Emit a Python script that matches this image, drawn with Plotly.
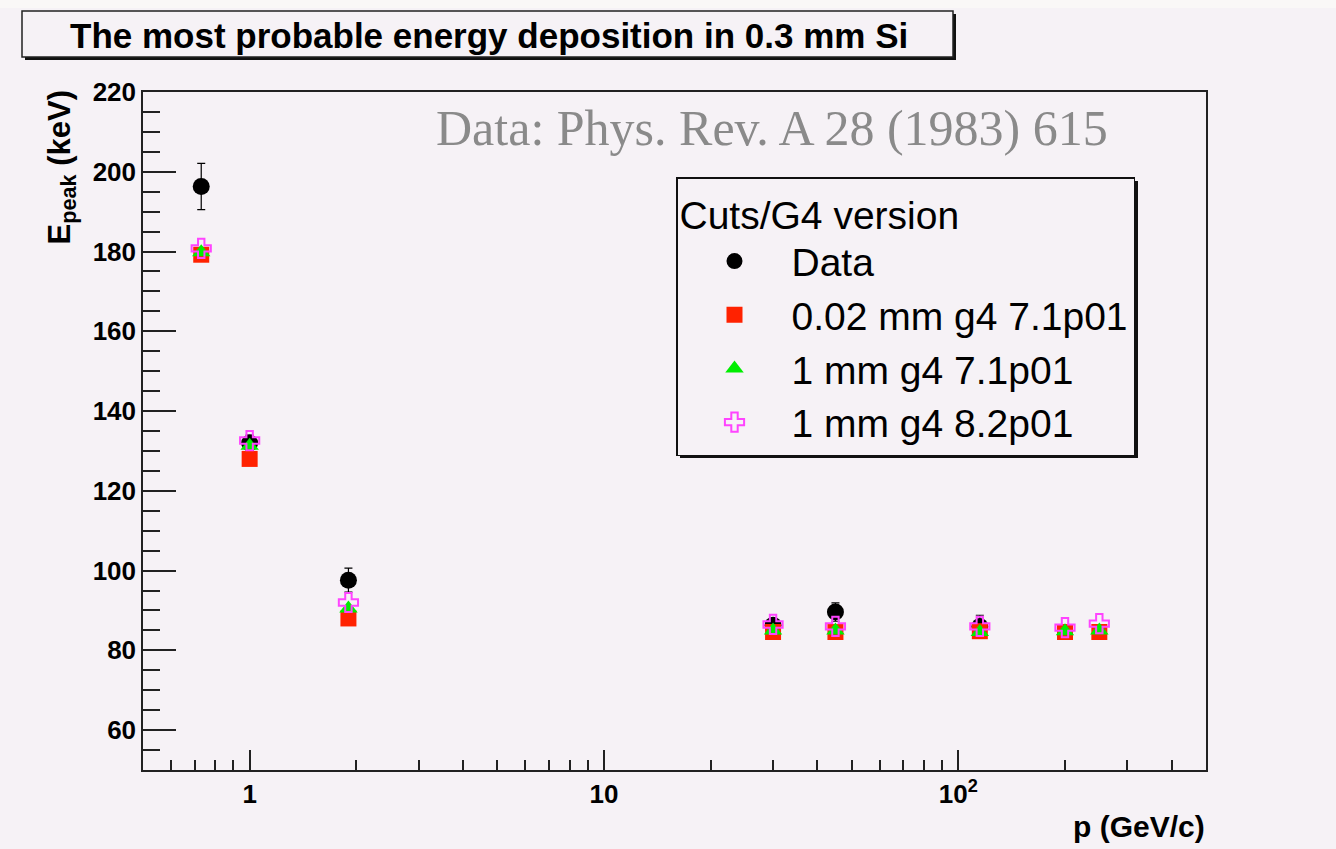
import plotly.graph_objects as go

# ---------------- data ----------------
p_data = [0.73, 1.0, 1.9, 30, 45, 115]
e_data = [196.3, 132.0, 97.6, 86.3, 89.6, 86.0]
e_data_err = [5.8, 2.0, 3.0, 1.5, 2.3, 2.8]

p_sim = [0.73, 1.0, 1.9, 30, 45, 115, 200, 250]
e_002_71 = [179.2, 128.0, 88.0, 84.6, 84.6, 84.8, 84.6, 84.6]
e_1_71 = [179.8, 131.3, 90.5, 85.0, 85.0, 84.6, 84.8, 85.0]
e_1_82 = [180.8, 132.6, 92.0, 86.5, 86.0, 86.0, 85.7, 86.7]

x_major = [1, 10, 100]
x_major_text = ["1", "10", "10<sup>2</sup>"]
x_minor = [0.6, 0.7, 0.8, 0.9, 2, 3, 4, 5, 6, 7, 8, 9,
           20, 30, 40, 50, 60, 70, 80, 90, 200, 300, 400]
y_major = [60, 80, 100, 120, 140, 160, 180, 200, 220]

# ---------------- layout geometry (pixels) ----------------
W, H = 1336, 849
L, R, T, B = 143, 1206, 92, 770
BG = "#f6f2f6"
SANS = "Liberation Sans, Arial, sans-serif"


def px(xp):
    return (xp - L) / (R - L)


def py(yp):
    return (B - yp) / (B - T)


fig = go.Figure()

fig.add_trace(go.Scatter(
    x=p_data, y=e_data, mode="markers", name="Data",
    legendgroup="a",
    marker=dict(symbol="circle", size=17, color="black"),
    error_y=dict(type="data", array=e_data_err, visible=True,
                 color="black", thickness=1.2, width=4),
))
fig.add_trace(go.Scatter(
    x=p_sim, y=e_002_71, mode="markers", name="0.02 mm g4 7.1p01",
    legendgroup="b",
    marker=dict(symbol="square", size=16, color="#ff2200"),
))
fig.add_trace(go.Scatter(
    x=p_sim, y=e_1_71, mode="markers", name="1 mm g4 7.1p01",
    legendgroup="c",
    marker=dict(symbol="triangle-up", size=16, color="#00ee00"),
))
fig.add_trace(go.Scatter(
    x=p_sim, y=e_1_82, mode="markers", name="1 mm g4 8.2p01",
    legendgroup="d",
    marker=dict(symbol="cross-open", size=16, color="#ff44ff",
                line=dict(color="#ff44ff", width=2)),
))

shapes = []
# top strip of the slide
shapes.append(dict(type="rect", xref="paper", yref="paper",
                   x0=px(0), x1=px(W), y0=py(0), y1=py(8),
                   fillcolor="#faf8f7", line=dict(width=0), layer="below"))
# title box shadow + box
shapes.append(dict(type="rect", xref="paper", yref="paper",
                   x0=px(25), x1=px(956), y0=py(14), y1=py(60),
                   fillcolor="#111111", line=dict(width=0)))
shapes.append(dict(type="rect", xref="paper", yref="paper",
                   x0=px(22), x1=px(953), y0=py(11), y1=py(57),
                   fillcolor=BG, line=dict(color="#222222", width=1.5)))
# legend shadow
shapes.append(dict(type="rect", xref="paper", yref="paper",
                   x0=px(680), x1=px(1138), y0=py(181), y1=py(458),
                   fillcolor="#111111", line=dict(width=0)))

annotations = [
    dict(text="<b>The most probable energy deposition in 0.3 mm Si</b>",
         xref="paper", yref="paper", x=px(489), y=py(36),
         xanchor="center", yanchor="middle", showarrow=False,
         font=dict(family=SANS, size=35, color="black")),
    dict(text="Data: Phys. Rev. A 28 (1983) 615",
         xref="paper", yref="paper", x=px(1110), y=py(128),
         xanchor="right", yanchor="middle", showarrow=False,
         font=dict(family="Liberation Serif, serif", size=50, color="#8a8a8a")),
    dict(text="<b>E<sub>peak</sub> (keV)</b>", textangle=-90,
         xref="paper", yref="paper", x=px(62), y=py(88),
         xanchor="center", yanchor="top", showarrow=False,
         font=dict(family=SANS, size=31, color="black")),
    dict(text="<b>p (GeV/c)</b>",
         xref="paper", yref="paper", x=px(1207), y=py(826),
         xanchor="right", yanchor="middle", showarrow=False,
         font=dict(family=SANS, size=30, color="black")),
]

fig.update_layout(
    width=W, height=H,
    margin=dict(l=L, r=W - R, t=T, b=H - B, pad=0),
    paper_bgcolor=BG, plot_bgcolor=BG,
    showlegend=True,
    legend=dict(
        x=px(676), y=py(177), xanchor="left", yanchor="top",
        bgcolor=BG, bordercolor="#111111", borderwidth=1.5,
        font=dict(family=SANS, size=39, color="black"),
        title=dict(text="Cuts/G4 version", font=dict(family=SANS, size=39)),
        tracegroupgap=0, itemwidth=104, itemsizing="trace",
    ),
    shapes=shapes,
    annotations=annotations,
    xaxis=dict(
        type="log", range=[-0.301, 2.699],
        tickmode="array", tickvals=x_major, ticktext=x_major_text,
        ticks="inside", ticklen=20, tickwidth=1.5, tickcolor="#222",
        showgrid=False, zeroline=False,
        showline=True, linecolor="#222", linewidth=1.5, mirror=True,
        tickfont=dict(family=SANS, size=26, color="black", weight="bold"),
        minor=dict(tickmode="array", tickvals=x_minor, ticks="inside",
                   ticklen=10, tickwidth=1.5, tickcolor="#222", showgrid=False),
    ),
    yaxis=dict(
        range=[50, 220],
        tickmode="array", tickvals=y_major,
        ticks="inside", ticklen=33, tickwidth=1.5, tickcolor="#222",
        showgrid=False, zeroline=False,
        showline=True, linecolor="#222", linewidth=1.5, mirror=True,
        tickfont=dict(family=SANS, size=26, color="black", weight="bold"),
        minor=dict(dtick=5, tick0=0, ticks="inside", ticklen=17,
                   tickwidth=1.5, tickcolor="#222", showgrid=False),
    ),
)

fig.write_html("out.html")
